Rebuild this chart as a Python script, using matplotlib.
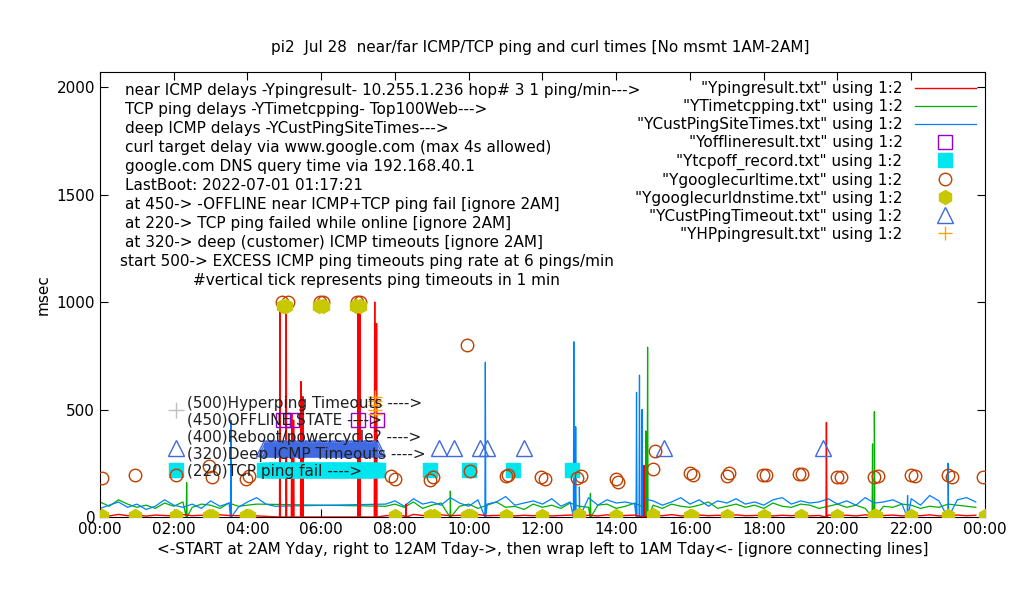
import numpy as np
import matplotlib
matplotlib.use('Agg')
import matplotlib.pyplot as plt

# ---- data (hours since midnight, msec) ----
step_h = 0.25
blue_base = [40, 55, 70, 45, 60, 35, 50, 80, 55, 45, 60, 40, 75, 50, 65, 45,
             70, 90, 60, 50]  # 00:00-05:00 (stops at outage ~04:25)
blue_base2 = [60, 75, 50, 85, 60, 70, 55, 90, 65, 50, 80, 60, 70, 95, 55, 65,
              75, 60, 85, 50, 70, 60, 90, 55, 80, 65, 70, 60, 85, 75, 55, 70,
              90, 60, 80, 50, 75, 65, 85, 60, 70, 55, 80, 90, 60, 75, 65, 70,
              85, 60, 75, 55, 90, 65, 70, 80, 60, 85, 55, 100, 75, 65, 80, 90,
              70]  # 07:45-23:45
green_base = [70, 50, 80, 60, 45, 55, 40, 65, 50, 70, 45, 60, 55, 40, 65, 50,
              55, 60]
green_base2 = [50, 60, 45, 70, 40, 55, 65, 45, 50, 60, 40, 55, 70, 45, 50, 35,
               60, 45, 55, 40, 65, 50, 45, 55, 60, 40, 50, 65, 45, 55, 40, 60,
               50, 45, 55, 70, 40, 50, 60, 45, 55, 40, 65, 50, 45, 60, 55, 40,
               50, 60, 45, 55, 40, 65, 50, 45, 60, 55, 40, 50, 45, 60, 55, 50,
               45]
red_base = [8, 5, 12, 6, 10, 4, 9, 7, 5, 11, 6, 8, 5, 10, 7, 6, 9, 5]
red_base2 = [6, 9, 5, 12, 7, 5, 10, 6, 8, 5, 11, 6, 7, 9, 5, 8, 6, 10, 5, 7,
             9, 6, 8, 5, 10, 6, 7, 9, 5, 8, 6, 11, 5, 7, 9, 6, 8, 5, 10, 6, 7,
             9, 5, 8, 6, 10, 5, 7, 9, 6, 8, 5, 10, 6, 7, 9, 5, 8, 6, 10, 5, 7,
             9, 6, 8]

# spikes (hour, msec)
red_spikes = [(4.88, 1000), (5.05, 1000), (5.2, 480), (5.25, 450), (5.45, 630),
              (5.5, 560), (7.0, 1000), (7.05, 1000), (7.45, 1000), (7.5, 900),
              (14.75, 240), (19.7, 440), (8.3, 60)]
blue_spikes = [(3.55, 450), (10.45, 720), (12.85, 815), (12.9, 420),
               (14.55, 580), (14.63, 660), (14.7, 500), (13.0, 140),
               (23.0, 250), (21.9, 100)]
green_spikes = [(14.85, 790), (14.8, 400), (21.0, 490), (20.95, 340),
                (2.35, 160), (9.5, 120), (13.3, 110)]

curl_t = [0.05, 0.95, 2.05, 2.95, 3.05, 3.95, 4.05, 4.93, 5.1, 5.96, 6.04,
          6.97, 7.05, 7.9, 8.0, 8.95, 9.03, 9.95, 10.03, 11.0, 11.06, 11.95,
          12.06, 12.93, 13.05, 14.0, 14.05, 15.0, 15.05, 16.0, 16.07, 17.0,
          17.05, 17.97, 18.05, 18.95, 19.05, 20.0, 20.1, 21.0, 21.1, 22.0,
          22.1, 23.0, 23.1, 23.95]
curl_v = [180, 195, 195, 235, 185, 175, 190, 1000, 1000, 1000, 1000, 1000,
          1000, 190, 175, 170, 185, 800, 215, 190, 195, 185, 175, 180, 190,
          175, 165, 225, 305, 205, 195, 190, 205, 195, 195, 200, 200, 185,
          185, 185, 190, 195, 190, 195, 185, 185]
dns_t = [0.05, 0.95, 2.05, 2.95, 3.05, 3.95, 4.05, 4.95, 5.05, 5.95, 6.05,
         6.95, 7.05, 8.0, 8.95, 9.05, 9.95, 10.05, 11.0, 12.0, 13.0, 14.0,
         15.0, 16.0, 16.05, 17.0, 18.0, 19.0, 20.0, 21.0, 21.05, 22.0, 23.0,
         24.0]
dns_v = [5, 5, 5, 5, 5, 5, 5, 980, 980, 980, 980, 980, 980, 3, 5, 5, 5, 5,
         5, 5, 8, 5, 10, 5, 5, 5, 5, 5, 5, 5, 5, 5, 5, 5]
tcpoff_t = [2.05, 8.95, 10.0, 11.2, 12.8] + list(np.arange(4.45, 7.6, 0.05))
tcpoff_v = [220] * len(tcpoff_t)
offline_t = [4.95, 5.2, 7.0, 7.5]
offline_v = [450, 450, 450, 450]
deep_t = [2.05, 9.2, 9.6, 10.3, 10.5, 11.5, 15.3, 19.6] + list(np.arange(4.45, 7.55, 0.05))
deep_v = [320] * len(deep_t)
hyper_t = [7.45, 7.45, 7.45, 7.45, 7.45]
hyper_v = [500, 520, 540, 560, 480]

notes = [
    "near ICMP delays -Ypingresult- 10.255.1.236 hop# 3 1 ping/min--->",
    "TCP ping delays -YTimetcpping- Top100Web--->",
    "deep ICMP delays -YCustPingSiteTimes--->",
    "curl target delay via www.google.com (max 4s allowed)",
    "google.com DNS query time via 192.168.40.1",
    "LastBoot: 2022-07-01 01:17:21",
    "at 450-> -OFFLINE near ICMP+TCP ping fail [ignore 2AM]",
    "at 220-> TCP ping failed while online [ignore 2AM]",
    "at 320-> deep (customer) ICMP timeouts [ignore 2AM]",
]
level_y = [530, 450, 370, 290, 210]
level_labels = ["(500)Hyperping Timeouts ---->",
                "(450)OFFLINE STATE ---->",
                "(400)Reboot/powercycle? ---->",
                "(320)Deep ICMP Timeouts ---->",
                "(220)TCP ping fail ---->"]


def build(base1, base2, spikes):
    t = list(np.arange(len(base1)) * step_h) + \
        list(7.75 + np.arange(len(base2)) * step_h)
    v = list(base1) + list(base2)
    pts = list(zip(t, v))
    for sh, sv in spikes:
        # sharp one-minute spike
        pts += [(sh - 0.012, 0), (sh, sv), (sh + 0.012, 0)]
    pts.sort()
    return [p[0] for p in pts], [p[1] for p in pts]


fig = plt.figure(figsize=(10.2, 6), dpi=100)
ax = fig.add_axes([100 / 1020, 83 / 600, 885 / 1020, 445 / 600])

bt, bv = build(blue_base, blue_base2, blue_spikes)
gt, gv = build(green_base, green_base2, green_spikes)
rt, rv = build(red_base, red_base2, red_spikes)
ax.plot(rt, rv, color='#ff0000', lw=1, label='"Ypingresult.txt" using 1:2', zorder=3)
ax.plot(gt, gv, color='#00b000', lw=0.9, label='"YTimetcpping.txt" using 1:2', zorder=2)
ax.plot(bt, bv, color='#0080ff', lw=0.9, label='"YCustPingSiteTimes.txt" using 1:2', zorder=2)
ax.plot(offline_t, offline_v, 's', ms=10, mfc='none', mec='#9400d3',
        label='"Yofflineresult.txt" using 1:2', zorder=4)
ax.plot(tcpoff_t, tcpoff_v, 's', ms=10, color='#00e5ee', mec='#00e5ee',
        label='"Ytcpoff_record.txt" using 1:2', zorder=4)
ax.plot(curl_t, curl_v, 'o', ms=9, mfc='none', mec='#c04000',
        label='"Ygooglecurltime.txt" using 1:2', zorder=5)
ax.plot(dns_t, dns_v, 'h', ms=10, color='#c8c800',
        label='"Ygooglecurldnstime.txt" using 1:2', zorder=5)
ax.plot(deep_t, deep_v, '^', ms=12, mfc='none', mec='#4169e1',
        label='"YCustPingTimeout.txt" using 1:2', zorder=4)
ax.plot(hyper_t, hyper_v, '+', ms=10, color='#ffa500',
        label='"YHPpingresult.txt" using 1:2', zorder=5)

# filled band where deep triangles overlap during outage
ax.fill_between([4.45, 7.5], 290, 345, color='#4169e1', zorder=3, lw=0)

ax.plot([2.05], [500], '+', ms=12, color='#c0c0c0')
for lv, txt in zip(level_y, level_labels):
    ax.text(2.35, lv, txt, fontsize=11, va='center', color='#202020', zorder=6)

ax.set_xlim(0, 24)
ax.set_ylim(0, 2070)
ax.set_xticks(range(0, 25, 2))
ax.set_xticklabels(['%02d:00' % (h % 24) for h in range(0, 25, 2)], fontsize=11)
ax.set_yticks(range(0, 2001, 500))
ax.tick_params(axis='y', labelsize=11)
ax.tick_params(direction='in', top=True, right=True, length=6)
ax.set_ylabel('msec', fontsize=11)
ax.set_xlabel('<-START at 2AM Yday, right to 12AM Tday->, then wrap left to 1AM Tday<- [ignore connecting lines]',
              fontsize=11)
fig.text(0.53, 0.913, 'pi2  Jul 28  near/far ICMP/TCP ping and curl times [No msmt 1AM-2AM]',
         ha='center', fontsize=11)

y0 = 0.975
for i, n in enumerate(notes):
    ax.text(0.028, y0 - i * 0.0427, n, transform=ax.transAxes, fontsize=11, va='top')
ax.text(0.023, y0 - 9 * 0.0427, "start 500-> EXCESS ICMP ping timeouts ping rate at 6 pings/min",
        transform=ax.transAxes, fontsize=11, va='top')
ax.text(0.105, y0 - 10 * 0.0427, "#vertical tick represents ping timeouts in 1 min",
        transform=ax.transAxes, fontsize=11, va='top')

ax.legend(loc='upper right', frameon=False, markerfirst=False, fontsize=11,
          handlelength=4, labelspacing=0.2, borderaxespad=0.2)

fig.savefig('out.png', dpi=100)
